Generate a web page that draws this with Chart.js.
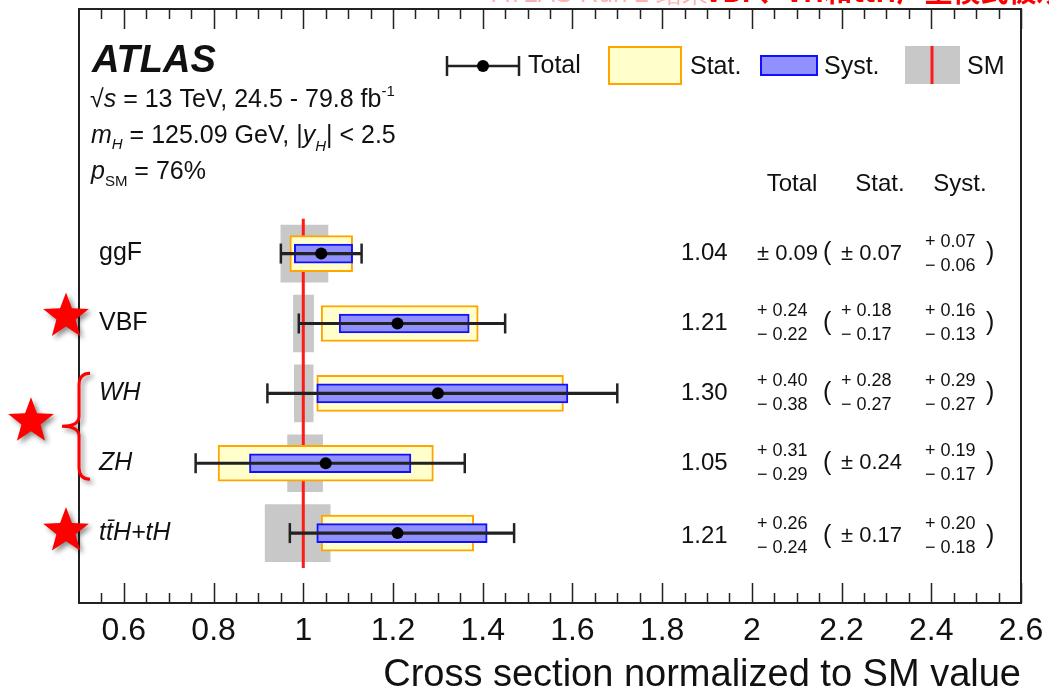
<!DOCTYPE html>
<html>
<head>
<meta charset="utf-8">
<script src="https://cdn.jsdelivr.net/npm/chart.js@4.4.1/dist/chart.umd.min.js"></script>
<style>
  html, body { margin: 0; padding: 0; background: #fff; }
  canvas { display: block; }
</style>
</head>
<body>
<canvas id="xsChart" width="1049" height="694"></canvas>
<script>
// production modes, top to bottom
var modes = ["ggF", "VBF", "WH", "ZH", "t\u0074\u0304H+tH"];
var italicMode = [false, false, true, true, true];
var central = [1.04, 1.21, 1.30, 1.05, 1.21];
var totalUp = [0.09, 0.24, 0.40, 0.31, 0.26];
var totalDn = [0.09, 0.22, 0.38, 0.29, 0.24];
var statUp = [0.07, 0.18, 0.28, 0.24, 0.17];
var statDn = [0.07, 0.17, 0.27, 0.24, 0.17];
var systUp = [0.07, 0.16, 0.29, 0.19, 0.20];
var systDn = [0.06, 0.13, 0.27, 0.17, 0.18];
// SM theory band around 1
var smLow = [0.95, 0.978, 0.98, 0.965, 0.915];
var smHigh = [1.055, 1.023, 1.022, 1.043, 1.06];
var xTickValues = [0.6, 0.8, 1, 1.2, 1.4, 1.6, 1.8, 2, 2.2, 2.4, 2.6];
var xTickLabels = ["0.6", "0.8", "1", "1.2", "1.4", "1.6", "1.8", "2", "2.2", "2.4", "2.6"];

var FONT = '"Liberation Sans", Arial, Helvetica, sans-serif';

function band(lo, hi) {
  return modes.map(function (m, i) { return { y: i, x: [lo[i], hi[i]] }; });
}
function lower(up, dn) { return central.map(function (c, i) { return c - dn[i]; }); }
function upper(up, dn) { return central.map(function (c, i) { return c + up[i]; }); }

var capPoints = [];
modes.forEach(function (m, i) {
  capPoints.push({ x: central[i] - totalDn[i], y: i });
  capPoints.push({ x: central[i] + totalUp[i], y: i });
});

function barSet(data, thick, fill, border, bw, order) {
  return {
    type: 'bar', indexAxis: 'y', grouped: false, borderSkipped: false,
    data: data, barThickness: thick, backgroundColor: fill,
    borderColor: border, borderWidth: bw, order: order
  };
}

function drawStar(ctx, cx, cy, R) {
  var r = R * 0.42;
  ctx.beginPath();
  for (var k = 0; k < 10; k++) {
    var rad = k % 2 === 0 ? R : r;
    var a = -Math.PI / 2 + k * Math.PI / 5;
    ctx.lineTo(cx + rad * Math.cos(a), cy + rad * Math.sin(a));
  }
  ctx.closePath();
  ctx.fill();
}

function runs(ctx, x, y, parts) {
  parts.forEach(function (p) {
    ctx.font = (p.it ? 'italic ' : '') + p.size + 'px ' + FONT;
    ctx.fillText(p.t, x, y + (p.dy || 0));
    x += ctx.measureText(p.t).width;
  });
}

function errCol(ctx, x, y, up, dn) {
  if (up === dn) {
    ctx.font = '22px ' + FONT;
    ctx.fillText('\u00b1 ' + up.toFixed(2), x, y);
  } else {
    ctx.font = '18px ' + FONT;
    ctx.fillText('+ ' + up.toFixed(2), x, y - 12);
    ctx.fillText('\u2212 ' + dn.toFixed(2), x, y + 12);
  }
}

var decorations = {
  id: 'decorations',
  afterDraw: function (chart) {
    var ctx = chart.ctx, area = chart.chartArea;
    var xs = chart.scales.x, ys = chart.scales.y;
    ctx.save();

    // frame and inner ticks
    ctx.strokeStyle = '#222';
    ctx.lineWidth = 2;
    ctx.strokeRect(area.left, area.top, area.right - area.left, area.bottom - area.top);
    ctx.lineWidth = 1.5;
    for (var n = 55; n <= 260; n += 5) {
      var px = Math.round(xs.getPixelForValue(n / 100)) + 0.5;
      var len = (n - 60) % 20 === 0 ? 20 : 10;
      ctx.beginPath();
      ctx.moveTo(px, area.bottom); ctx.lineTo(px, area.bottom - len);
      ctx.moveTo(px, area.top); ctx.lineTo(px, area.top + len);
      ctx.stroke();
    }

    // labels
    ctx.fillStyle = '#111';
    ctx.textBaseline = 'alphabetic';
    ctx.textAlign = 'left';
    ctx.font = 'bold italic 38px ' + FONT;
    ctx.fillText('ATLAS', 92, 72);
    runs(ctx, 90, 107, [
      { t: '\u221a', size: 25 }, { t: 's', size: 25, it: true },
      { t: ' = 13 TeV, 24.5 - 79.8 fb', size: 25 }, { t: '-1', size: 15, dy: -11 }
    ]);
    runs(ctx, 91, 143, [
      { t: 'm', size: 25, it: true }, { t: 'H', size: 15, it: true, dy: 6 },
      { t: ' = 125.09 GeV, |', size: 25 }, { t: 'y', size: 25, it: true },
      { t: 'H', size: 15, it: true, dy: 8 }, { t: '| < 2.5', size: 25 }
    ]);
    runs(ctx, 91, 179, [
      { t: 'p', size: 25, it: true }, { t: 'SM', size: 15, dy: 7 }, { t: ' = 76%', size: 25 }
    ]);

    // legend
    var ly = 66;
    ctx.strokeStyle = '#222';
    ctx.lineWidth = 2.5;
    ctx.beginPath();
    ctx.moveTo(447, ly); ctx.lineTo(519, ly);
    ctx.moveTo(447, ly - 10); ctx.lineTo(447, ly + 10);
    ctx.moveTo(519, ly - 10); ctx.lineTo(519, ly + 10);
    ctx.stroke();
    ctx.fillStyle = '#000';
    ctx.beginPath(); ctx.arc(483, ly, 6, 0, Math.PI * 2); ctx.fill();
    ctx.fillStyle = '#ffffcc'; ctx.fillRect(609, 47, 72, 37);
    ctx.strokeStyle = '#ffa500'; ctx.lineWidth = 2; ctx.strokeRect(609, 47, 72, 37);
    ctx.fillStyle = '#9090ff'; ctx.fillRect(761, 56, 56, 19);
    ctx.strokeStyle = '#1010ff'; ctx.strokeRect(761, 56, 56, 19);
    ctx.fillStyle = '#c8c8c8'; ctx.fillRect(905, 46, 55, 38);
    ctx.strokeStyle = '#ff1a1a'; ctx.lineWidth = 3;
    ctx.beginPath(); ctx.moveTo(932, 46); ctx.lineTo(932, 84); ctx.stroke();
    ctx.fillStyle = '#111';
    ctx.textBaseline = 'middle';
    ctx.font = '25px ' + FONT;
    ctx.fillText('Total', 528, ly);
    ctx.fillText('Stat.', 690, ly + 1);
    ctx.fillText('Syst.', 824, ly + 1);
    ctx.fillText('SM', 967, ly + 1);

    // table
    ctx.textAlign = 'center';
    ctx.font = '24px ' + FONT;
    ctx.fillText('Total', 792, 184);
    ctx.fillText('Stat.', 880, 184);
    ctx.fillText('Syst.', 960, 184);
    ctx.textAlign = 'left';
    modes.forEach(function (m, i) {
      var y = ys.getPixelForValue(i) + (i === 4 ? 3 : 0);
      ctx.font = '24px ' + FONT;
      ctx.fillText(central[i].toFixed(2), 681, y);
      errCol(ctx, 757, y, totalUp[i], totalDn[i]);
      errCol(ctx, 841, y, statUp[i], statDn[i]);
      errCol(ctx, 925, y, systUp[i], systDn[i]);
      ctx.font = '25px ' + FONT;
      ctx.fillText('(', 823, y);
      ctx.fillText(')', 986, y);
    });

    // red annotations
    ctx.shadowColor = 'rgba(0,0,0,0.45)';
    ctx.shadowBlur = 5;
    ctx.shadowOffsetX = 3;
    ctx.shadowOffsetY = 3;
    ctx.fillStyle = '#ff0000';
    drawStar(ctx, 66, ys.getPixelForValue(1) - 7, 24);
    drawStar(ctx, 31, (ys.getPixelForValue(2) + ys.getPixelForValue(3)) / 2 - 7, 24);
    drawStar(ctx, 66, ys.getPixelForValue(4) - 2, 24);
    var yTop = ys.getPixelForValue(2) - 20, yBot = ys.getPixelForValue(3) + 16;
    var yMid = (yTop + yBot) / 2;
    ctx.strokeStyle = '#ff0000';
    ctx.lineWidth = 3;
    ctx.beginPath();
    ctx.moveTo(90, yTop);
    ctx.quadraticCurveTo(79, yTop, 79, yTop + 12);
    ctx.lineTo(79, yMid - 10);
    ctx.quadraticCurveTo(79, yMid, 62, yMid);
    ctx.quadraticCurveTo(79, yMid, 79, yMid + 10);
    ctx.lineTo(79, yBot - 12);
    ctx.quadraticCurveTo(79, yBot, 90, yBot);
    ctx.stroke();
    ctx.shadowColor = 'transparent';

    // clipped slide caption at the very top
    ctx.textBaseline = 'alphabetic';
    ctx.font = '26px ' + FONT;
    ctx.fillStyle = 'rgba(255,60,60,0.4)';
    ctx.fillText('ATLAS Run 2 \u7ed3\u679c', 492, 2);
    ctx.font = 'bold 28px "Noto Sans CJK SC"';
    ctx.fillStyle = '#ff0000';
    ctx.fillText('VBF\u3001VH\u548cttH\u4ea7\u751f\u6a21\u5f0f\u88ab\u89c2\u6d4b\u5230', 705, 2);
    ctx.restore();
  }
};

new Chart(document.getElementById('xsChart'), {
  type: 'bar',
  data: {
    datasets: [
      barSet(band(smLow, smHigh), 57, '#c8c8c8', '#c8c8c8', 0, 6),
      {
        type: 'line', data: [{ x: 1, y: -0.5 }, { x: 1, y: 4.5 }],
        borderColor: '#ff1a1a', borderWidth: 3, pointRadius: 0, order: 5
      },
      barSet(band(lower(statUp, statDn), upper(statUp, statDn)), 36, '#ffffcc', '#ffa500', 2, 4),
      barSet(band(lower(systUp, systDn), upper(systUp, systDn)), 19, '#9090ff', '#1010ff', 2, 3),
      barSet(band(lower(totalUp, totalDn), upper(totalUp, totalDn)), 2.5, '#222', '#222', 0, 2),
      {
        type: 'scatter', data: capPoints, pointStyle: 'line', rotation: 90,
        pointRadius: 10, borderColor: '#222', borderWidth: 2.5, order: 1
      },
      {
        type: 'scatter', data: modes.map(function (m, i) { return { x: central[i], y: i }; }),
        pointRadius: 6, backgroundColor: '#000', borderWidth: 0, order: 0
      }
    ]
  },
  options: {
    responsive: false,
    animation: false,
    events: [],
    layout: { autoPadding: false, padding: { left: 79, right: 28, top: 9, bottom: 0 } },
    plugins: { legend: { display: false }, tooltip: { enabled: false } },
    scales: {
      x: {
        type: 'linear', min: 0.5, max: 2.6, position: 'bottom', offset: false,
        grid: { display: false, drawTicks: false },
        border: { display: false },
        afterBuildTicks: function (s) { s.ticks = xTickValues.map(function (v) { return { value: v }; }); },
        afterFit: function (s) { s.height = 91; s.paddingLeft = 0; s.paddingRight = 0; },
        ticks: {
          padding: 9, color: '#111', maxRotation: 0, autoSkip: false,
          font: { family: FONT, size: 32 },
          callback: function (v, i) { return xTickLabels[i]; }
        },
        title: {
          display: true, text: 'Cross section normalized to SM value', align: 'end',
          color: '#111', font: { family: FONT, size: 38, lineHeight: 0.95 }, padding: { top: 0, bottom: 0 }
        }
      },
      y: {
        type: 'linear', min: -3.5, max: 5, reverse: true, position: 'left', offset: false,
        grid: { display: false, drawTicks: false },
        border: { display: false },
        afterBuildTicks: function (s) { s.ticks = modes.map(function (m, i) { return { value: i }; }); },
        afterFit: function (s) { s.width = 0; s.paddingTop = 0; s.paddingBottom = 0; },
        ticks: {
          mirror: true, padding: 20, color: '#111', autoSkip: false,
          font: function (c) { return { family: FONT, size: 25, style: italicMode[c.index] ? 'italic' : 'normal' }; },
          callback: function (v, i) { return modes[i]; }
        }
      }
    }
  },
  plugins: [decorations]
});
</script>
</body>
</html>
